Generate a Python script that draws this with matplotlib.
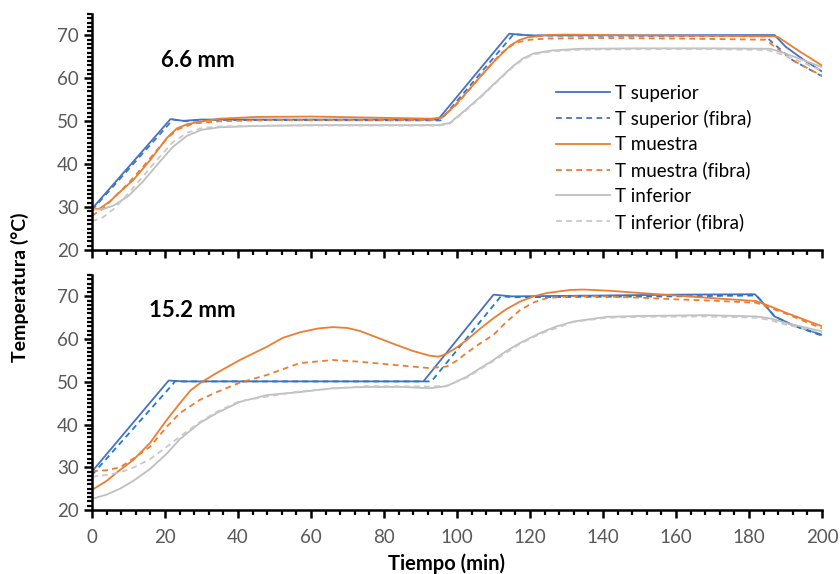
import matplotlib

matplotlib.use("Agg")

import matplotlib.pyplot as plt
from matplotlib.ticker import MultipleLocator

plt.rcParams["font.family"] = ["Lato", "DejaVu Sans"]

# ---- 6.6 mm sample ----
sup_t_a = [0, 21.5, 25, 30, 94.8, 114.3, 120, 187, 190, 195, 200]
sup_T_a = [29.6, 50.5, 50.1, 50.4, 50.4, 70.4, 70.0, 70.1, 67.4, 64.3, 61.6]

sup_fib_t_a = [0, 22.2, 26, 30, 95.5, 115.5, 120, 184.5, 192, 200]
sup_fib_T_a = [29.3, 50.4, 50.0, 50.3, 50.2, 70.3, 70.0, 69.8, 64.2, 60.5]

mue_t_a = [0, 2, 5, 8, 11.3, 15.9, 20.5, 23.2, 26, 29.6, 35, 45, 60, 80, 93,
           95.8, 99, 102.5, 106.3, 110, 114.5, 117, 119.1, 124.6, 130, 150,
           170, 187, 188, 194, 200]
mue_T_a = [29.6, 29.6, 31.4, 33.8, 36.3, 40.9, 46.1, 48.3, 49.3, 49.9, 50.6,
           51.0, 51.1, 50.8, 50.6, 50.9, 53.3, 56.6, 60.3, 63.8, 67.6, 68.9,
           69.5, 70.1, 70.2, 70.0, 69.9, 69.8, 69.6, 66.2, 63.0]

mue_fib_t_a = [0, 3, 6, 10, 14, 18, 21, 24, 28, 35, 50, 70, 93, 96, 100, 104,
               108, 112, 116, 120, 125, 140, 160, 184.5, 192, 200]
mue_fib_T_a = [28.0, 29.6, 32.2, 35.6, 39.4, 43.5, 46.4, 48.3, 49.5, 50.0,
               50.3, 50.3, 50.3, 50.9, 54.0, 58.0, 62.0, 65.8, 68.3, 69.0,
               69.3, 69.4, 69.3, 69.0, 64.2, 60.6]

inf_t_a = [0, 3, 6, 10, 14, 18, 22, 26, 30, 35, 45, 60, 80, 95, 98, 102, 106,
           110, 115, 118, 121, 126, 134, 150, 170, 185.8, 190, 195, 200]
inf_T_a = [29.4, 29.5, 30.4, 32.6, 36.0, 40.0, 43.9, 46.6, 48.0, 48.6, 48.9,
           49.1, 49.1, 49.1, 49.6, 52.4, 55.4, 58.6, 62.6, 64.6, 65.8, 66.5,
           66.9, 67.0, 67.0, 66.9, 65.8, 64.2, 62.6]

inf_fib_t_a = [0, 3, 6, 10, 14, 18, 22, 26, 30, 35, 50, 95, 98, 102, 106, 110,
               115, 118, 121, 126, 134, 150, 170, 185, 190, 195, 200]
inf_fib_T_a = [26.7, 27.6, 29.6, 33.2, 37.2, 41.2, 45.0, 47.3, 48.4, 48.8,
               49.0, 49.0, 49.4, 52.2, 55.2, 58.4, 62.4, 64.4, 65.6, 66.3,
               66.7, 66.8, 66.8, 66.6, 65.3, 63.6, 61.8]

# ---- 15.2 mm sample ----
sup_t_b = [0, 21, 25, 50, 90.8, 110, 115, 140, 160, 181.6, 183, 185, 187,
           192, 200]
sup_T_b = [29.0, 50.3, 50.1, 50.1, 50.1, 70.4, 70.0, 70.2, 70.4, 70.5, 69.3,
           67.3, 65.3, 63.3, 61.0]

sup_fib_t_b = [0, 22.3, 22.6, 50, 93, 112, 116, 160, 182, 185, 187, 192, 200]
sup_fib_T_b = [28.2, 49.6, 50.1, 50.1, 50.1, 70.0, 69.8, 70.0, 70.2, 67.3,
               65.3, 63.2, 60.8]

mue_t_b = [0, 4, 7.7, 11.3, 15.9, 20.5, 24.1, 27, 29.6, 34.2, 40.5, 47.9,
           52.3, 57, 62, 66, 70, 73.4, 78, 83.5, 88, 92.6, 95, 97.2, 100,
           102.7, 106, 110, 113.5, 117.3, 121, 124.7, 131, 134.5, 142, 150,
           160, 168, 175, 182, 186, 190, 195, 200]
mue_T_b = [24.7, 26.8, 29.4, 31.7, 35.7, 41.1, 45.0, 48.0, 49.7, 52.1, 55.1,
           58.2, 60.3, 61.6, 62.5, 62.8, 62.6, 61.9, 60.4, 58.6, 57.2, 56.1,
           55.9, 56.6, 58.1, 59.8, 62.2, 64.9, 67.0, 68.8, 70.0, 70.8, 71.5,
           71.6, 71.3, 70.8, 70.2, 69.7, 69.3, 68.9, 67.6, 66.2, 64.6, 63.0]

mue_fib_t_b = [0, 4, 7.7, 11.3, 15.9, 20.5, 24.1, 29.6, 34.2, 40.5, 47.9, 57,
               66, 73.4, 83.5, 92.6, 97.2, 100, 102.7, 106, 110, 113.5, 117.3,
               121, 124.7, 131, 140, 150, 160, 170, 182, 190, 200]
mue_fib_T_b = [29.1, 29.3, 30.0, 32.0, 34.8, 39.5, 42.7, 45.8, 47.6, 49.8,
               51.6, 54.4, 55.1, 54.7, 53.9, 53.2, 53.6, 55.0, 56.8, 58.8,
               61.0, 64.0, 66.8, 68.6, 69.6, 70.0, 70.0, 69.7, 69.3, 69.0,
               68.5, 66.0, 62.5]

inf_t_b = [0, 4, 7.7, 11.3, 15.9, 20.5, 24.1, 29.6, 34.2, 40.5, 47.9, 57, 66,
           75, 85, 92.6, 97.2, 102.7, 106, 110, 113.5, 117.3, 122.7, 127,
           131.8, 141, 150, 168, 182, 186, 190, 195, 200]
inf_T_b = [22.6, 23.6, 25.0, 26.8, 29.6, 33.2, 36.6, 40.4, 42.7, 45.3, 46.9,
           47.6, 48.5, 48.8, 48.8, 48.5, 49.0, 51.2, 53.0, 55.1, 57.2, 59.1,
           61.4, 62.9, 64.1, 65.2, 65.4, 65.6, 65.3, 64.8, 63.8, 62.8, 61.8]

inf_fib_t_b = [0, 4, 7.7, 11.3, 15.9, 20.5, 24.1, 29.6, 34.2, 40.5, 57, 75,
               92.6, 97.2, 102.7, 110, 117.3, 122.7, 131.8, 141, 150, 168, 182,
               186, 190, 195, 200]
inf_fib_T_b = [27.8, 28.2, 28.8, 29.9, 31.9, 34.8, 37.2, 40.6, 43.0, 45.5,
               47.8, 49.0, 48.9, 49.1, 51.0, 54.9, 58.9, 61.2, 64.0, 65.0,
               65.2, 65.3, 65.0, 64.4, 63.4, 62.5, 61.5]

LABELS = [
    "T superior",
    "T superior (fibra)",
    "T muestra",
    "T muestra (fibra)",
    "T inferior",
    "T inferior (fibra)",
]

BLUE = "#4472C4"
ORANGE = "#ED7D31"
GRAY = "#BFBFBF"
GRAY_DASH = "#C9C9C9"
TICK_GRAY = "#595959"
DASH = (3.2, 2.4)


def style_axes(ax, show_xlabels):

    for side in ("top", "right"):
        ax.spines[side].set_visible(False)
    for side in ("left", "bottom"):
        ax.spines[side].set_linewidth(1.8)
        ax.spines[side].set_color("black")

    ax.set_xlim(0, 200)
    ax.set_ylim(20, 75)
    ax.set_xticks(range(0, 201, 20))
    ax.set_yticks(range(20, 71, 10))
    ax.xaxis.set_minor_locator(MultipleLocator(4))
    ax.yaxis.set_minor_locator(MultipleLocator(1))
    ax.tick_params(which="major", direction="out", length=6, width=1.8,
                   colors="black", labelcolor=TICK_GRAY, labelsize=13.5)
    ax.tick_params(which="minor", direction="out", length=3.5, width=1.6,
                   colors="black")
    ax.tick_params(axis="x", pad=8)
    if not show_xlabels:
        ax.tick_params(axis="x", labelbottom=False)


def draw_panel(ax, series, title, title_xy, fibra_blue):

    colors = [BLUE, fibra_blue, ORANGE, ORANGE, GRAY, GRAY_DASH]
    for i, (t, temp) in enumerate(series):
        line, = ax.plot(t, temp, color=colors[i], lw=1.3, label=LABELS[i])
        if i % 2 == 1:
            line.set_dashes(DASH)
    ax.text(title_xy[0], title_xy[1], title, fontsize=16, fontweight="bold",
            ha="left", va="center")


fig = plt.figure(figsize=(8.4, 5.74), dpi=100)
ax_top = fig.add_axes([0.1095, 0.5645, 0.8691, 0.4111])
ax_bot = fig.add_axes([0.1095, 0.1115, 0.8691, 0.4094])

draw_panel(
    ax_top,
    [
        (sup_t_a, sup_T_a),
        (sup_fib_t_a, sup_fib_T_a),
        (mue_t_a, mue_T_a),
        (mue_fib_t_a, mue_fib_T_a),
        (inf_t_a, inf_T_a),
        (inf_fib_t_a, inf_fib_T_a),
    ],
    "6.6 mm",
    (18.8, 64.2),
    BLUE,
)
draw_panel(
    ax_bot,
    [
        (sup_t_b, sup_T_b),
        (sup_fib_t_b, sup_fib_T_b),
        (mue_t_b, mue_T_b),
        (mue_fib_t_b, mue_fib_T_b),
        (inf_t_b, inf_T_b),
        (inf_fib_t_b, inf_fib_T_b),
    ],
    "15.2 mm",
    (15.5, 66.8),
    "#2478C8",
)

style_axes(ax_top, show_xlabels=False)
style_axes(ax_bot, show_xlabels=True)

ax_top.legend(loc="upper left", bbox_to_anchor=(0.6356, 0.701), frameon=False,
              fontsize=13.5, handlelength=2.9, handletextpad=0.27,
              labelspacing=0.44, borderpad=0, borderaxespad=0)

ax_bot.set_xlabel("Tiempo (min)", fontsize=14.5, fontweight="bold")
ax_bot.xaxis.set_label_coords(0.486, -0.185)
fig.text(0.024, 0.5, "Temperatura (°C)", rotation=90, fontsize=14,
         fontweight="bold", ha="center", va="center")

fig.savefig("out.png", dpi=100)
